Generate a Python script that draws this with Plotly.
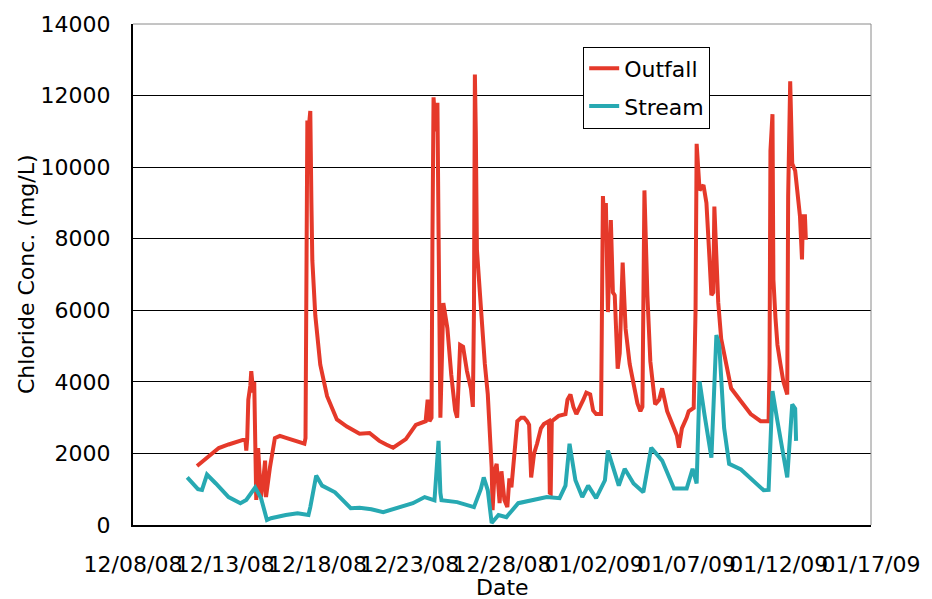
import pandas as pd
import plotly.graph_objects as go

# Elapsed time in days since 12/08/08 00:00, and chloride concentration (mg/L)
outfall_days = [
    3.47, 3.85, 4.22, 4.65, 5.18, 5.71, 6.09, 6.14, 6.19, 6.25, 6.36, 6.41, 6.52, 6.57,
    6.62, 6.68, 6.78, 6.89, 6.94, 7.05, 7.16, 7.21, 7.42, 7.69, 7.96, 8.38, 9.08, 9.29,
    9.35, 9.45, 9.51, 9.61, 9.67, 9.72, 9.88, 10.15, 10.52, 11.05, 11.59, 12.28, 12.82,
    13.35, 13.72, 14.10, 14.79, 15.33, 15.86, 15.97, 16.07, 16.18, 16.23, 16.29, 16.40,
    16.50, 16.56, 16.61, 16.66, 16.82, 17.04, 17.25, 17.46, 17.57, 17.73, 17.89, 18.10,
    18.32, 18.42, 18.48, 18.53, 18.58, 18.64, 18.80, 18.91, 19.07, 19.23, 19.33, 19.44,
    19.49, 19.60, 19.71, 19.81, 19.87, 19.97, 20.03, 20.13, 20.29, 20.40, 20.51, 20.67,
    20.83, 21.04, 21.20, 21.36, 21.47, 21.58, 21.74, 21.90, 22.11, 22.27, 22.54, 22.59,
    22.64, 22.70, 23.07, 23.44, 23.55, 23.71, 23.87, 24.03, 24.25, 24.41, 24.57, 24.78,
    24.94, 25.10, 25.37, 25.47, 25.58, 25.63, 25.74, 25.90, 26.01, 26.11, 26.27, 26.38,
    26.54, 26.70, 26.92, 27.08, 27.34, 27.50, 27.61, 27.72, 27.88, 28.04, 28.30, 28.52,
    28.68, 28.95, 29.21, 29.48, 29.59, 29.75, 30.01, 30.12, 30.39, 30.49, 30.55, 30.65,
    30.71, 30.92, 31.08, 31.24, 31.35, 31.45, 31.51, 31.62, 31.72, 31.88, 32.04, 32.26,
    32.42, 32.95, 33.48, 34.02, 34.45, 34.50, 34.55, 34.66, 34.71, 34.82, 34.93, 35.09,
    35.25, 35.46, 35.51, 35.62, 35.67, 35.73, 35.89, 36.05, 36.15, 36.26, 36.31, 36.42,
    36.47,
]
outfall_vals = [
    1650, 1800, 1950, 2150, 2250, 2330, 2400, 2080, 2400, 3500, 3900, 4300, 3700, 4000,
    2500, 700, 2150, 1000, 780, 1200, 1800, 780, 1600, 2430, 2490, 2420, 2320, 2270,
    2430, 11300, 11000, 11570, 9000, 7400, 5860, 4480, 3600, 2950, 2750, 2550, 2570,
    2350, 2250, 2160, 2400, 2800, 2900, 3500, 2900, 3000, 8000, 11950, 11000,
    11800, 8250, 5000, 3000, 6200, 5500, 4200, 3200, 3000, 5030, 4980, 4300,
    3800, 3300, 6000, 12590, 11000, 7700, 6500, 5480, 4500, 3650, 2700, 1600,
    415, 1500, 1710, 800, 610, 1500, 1160, 700, 500, 1300, 1050, 2000,
    2900, 3000, 3000, 2900, 2800, 1330, 2000, 2270, 2700, 2820, 2900, 900,
    885, 2900, 3050, 3100, 3500, 3650, 3300, 3100, 3300, 3500, 3700, 3650,
    3200, 3100, 3100, 9190, 8000, 9000, 5950, 8520, 6500, 6420, 4370, 4800,
    7330, 5480, 4500, 4100, 3400, 3180, 3300, 9350, 6420, 4570, 3370, 3500,
    3820, 3180, 2820, 2500, 2160, 2700, 3000, 3180, 3270, 6000, 10650, 9800,
    9350, 9500, 9000, 7500, 6420, 6500, 8900, 7500, 6220, 5200, 4760, 4200,
    3820, 3460, 3100, 2900, 2900, 4500, 10460, 11480, 6860, 5800, 5030, 4500,
    4010, 3650, 9190, 12400, 11000, 10100, 9900, 9000, 8630, 7420, 8630, 8630,
    7970,
]

stream_days = [
    2.94, 3.52, 3.74, 4.01, 4.49, 5.18, 5.82, 6.14, 6.62, 6.94, 7.26, 7.48, 8.28, 8.92,
    9.51, 9.61, 9.93, 10.25, 10.95, 11.80, 12.28, 12.92, 13.56, 14.47, 15.17, 15.81,
    16.34, 16.45, 16.56, 16.66, 16.72, 17.57, 18.48, 18.85, 19.01, 19.23, 19.44, 19.81,
    20.24, 20.88, 21.58, 22.43, 23.12, 23.44, 23.66, 23.98, 24.35, 24.67, 25.10, 25.58,
    25.74, 26.01, 26.33, 26.65, 27.13, 27.66, 28.09, 28.68, 29.32, 30.01, 30.33, 30.55,
    30.71, 30.97, 31.35, 31.62, 31.78, 32.04, 32.31, 32.95, 33.32, 33.64, 34.18, 34.45,
    34.66, 34.93, 35.19, 35.46, 35.73, 35.89, 35.94,
]
stream_vals = [
    1330, 1000, 980, 1410, 1160, 780, 610, 700, 1050, 750, 140, 190, 280, 330,
    280, 500, 1380, 1100, 915, 470, 480, 440, 360, 500, 610, 780,
    690, 1500, 2350, 900, 690, 640, 500, 1000, 1330, 970, 55, 280,
    220, 610, 690, 780, 750, 1100, 2270, 1250, 780, 1100, 750, 1250,
    2080, 1600, 1100, 1570, 1160, 915, 2160, 1800, 1020, 1020, 1570, 1160,
    4010, 3100, 1880, 5310, 5000, 2710, 1710, 1550, 1380, 1250, 970, 980,
    3740, 2900, 2160, 1330, 3370, 3250, 2350,
]

start = pd.Timestamp("2008-12-08")
outfall_time = start + pd.to_timedelta(outfall_days, unit="D")
stream_time = start + pd.to_timedelta(stream_days, unit="D")

x_ticks = pd.date_range("2008-12-08", "2009-01-17", freq="5D")
tick_labels = [d.strftime("%m/%d/%y") for d in x_ticks]

FONT = "DejaVu Sans, Arial, sans-serif"
FS = 22

fig = go.Figure()
fig.add_trace(go.Scatter(x=outfall_time, y=outfall_vals, mode="lines", name="Outfall",
                         legendgroup="a", line=dict(color="#E5392A", width=4)))
fig.add_trace(go.Scatter(x=stream_time, y=stream_vals, mode="lines", name="Stream",
                         legendgroup="b", line=dict(color="#27A9B2", width=4)))

fig.update_layout(
    width=932, height=599,
    margin=dict(l=133, r=50, t=19, b=74),
    paper_bgcolor="white", plot_bgcolor="white",
    font=dict(family=FONT, size=FS, color="black"),
    showlegend=True,
    legend=dict(x=0.61, y=0.955, xanchor="left", yanchor="top",
                bgcolor="white", bordercolor="black", borderwidth=1,
                font=dict(size=FS), itemwidth=30, tracegroupgap=6),
    xaxis=dict(
        type="date",
        range=[x_ticks[0], x_ticks[-1]],
        tickmode="array", tickvals=list(x_ticks), ticktext=tick_labels,
        tickangle=0, showgrid=False, ticks="", ticklen=0, ticklabelstandoff=19,
        showline=True, linecolor="black", linewidth=1.5,
    ),
    yaxis=dict(
        range=[0, 14000], dtick=2000, tickformat="d",
        showgrid=True, gridcolor="black", gridwidth=1,
        zeroline=False, ticks="", ticklen=0, ticklabelstandoff=16,
        showline=True, linecolor="black", linewidth=2,
    ),
)

# Axis titles
fig.add_annotation(text="Date", xref="paper", yref="paper", x=0.5, y=-0.1245,
                   xanchor="center", yanchor="middle", showarrow=False,
                   font=dict(size=FS))
fig.add_annotation(text="Chloride Conc. (mg/L)", xref="paper", yref="paper",
                   x=-0.1442, y=0.5, xanchor="center", yanchor="middle",
                   textangle=-90, showarrow=False, font=dict(size=FS))

# Light grey frame on the top and right of the plotting area
fig.add_shape(type="line", xref="paper", yref="paper", x0=0, x1=1, y0=1, y1=1,
              line=dict(color="#8a8a8a", width=1))
fig.add_shape(type="line", xref="paper", yref="paper", x0=1, x1=1, y0=0, y1=1,
              line=dict(color="#8a8a8a", width=1))

fig.write_html("out.html")
